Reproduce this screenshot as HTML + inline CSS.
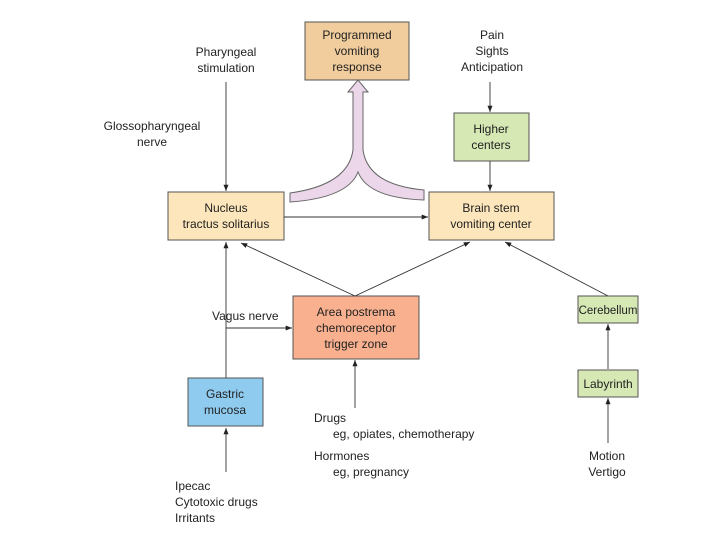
<!DOCTYPE html>
<html><head><style>
body{margin:0;background:#fff}
svg text{font-family:"Liberation Sans",sans-serif;font-size:12px;fill:#222}
</style></head><body>
<svg width="720" height="540" viewBox="0 0 720 540" xmlns="http://www.w3.org/2000/svg">
<defs><marker id="a" viewBox="0 0 10 10" refX="10" refY="5" markerWidth="7" markerHeight="7" orient="auto"><path d="M0,1 L10,5 L0,9z" fill="#222"/></marker></defs>
<g stroke="#555" stroke-width="1">
<rect x="305" y="22" width="104" height="58" fill="#f1cc9c"/>
<rect x="454" y="113" width="75" height="48" fill="#d6e8b4"/>
<rect x="168" y="192" width="116" height="48" fill="#fde6bb"/>
<rect x="429" y="192" width="125" height="48" fill="#fde6bb"/>
<rect x="293" y="296" width="126" height="63" fill="#f8b08f"/>
<rect x="188" y="378" width="75" height="48" fill="#8fcbef"/>
<rect x="578" y="296" width="60" height="27" fill="#d6e8b4"/>
<rect x="578" y="370" width="60" height="27" fill="#d6e8b4"/>
</g>
<g stroke="#333" stroke-width="0.9" fill="none" marker-end="url(#a)">
<line x1="226" y1="82" x2="226" y2="191"/>
<line x1="490" y1="82" x2="490" y2="112"/>
<line x1="490" y1="161" x2="490" y2="191"/>
<line x1="284" y1="217" x2="428" y2="217"/>
<line x1="226" y1="378" x2="226" y2="242"/>
<polyline points="226,328 292,328"/>
<line x1="355" y1="296" x2="241" y2="243"/>
<line x1="355" y1="296" x2="470" y2="242"/>
<line x1="608" y1="296" x2="505" y2="242"/>
<line x1="355" y1="408" x2="355" y2="360"/>
<line x1="226" y1="472" x2="226" y2="428"/>
<line x1="608" y1="443" x2="608" y2="398"/>
<line x1="608" y1="369" x2="608" y2="324"/>
</g>
<path d="M353,92 L348,92 L358,80 L368,92 L363,92 L363,150 Q368,185 424,190 L424,200 Q368,198 358,172 Q348,198 290,202 L290,193 Q348,185 353,150 Z" fill="#ecd6ea" stroke="#666" stroke-width="1"/>
<g text-anchor="middle">
<text x="357" y="39">Programmed</text><text x="357" y="55">vomiting</text><text x="357" y="71">response</text>
<text x="226" y="56">Pharyngeal</text><text x="226" y="72">stimulation</text>
<text x="152" y="130">Glossopharyngeal</text><text x="152" y="146">nerve</text>
<text x="492" y="39">Pain</text><text x="492" y="55">Sights</text><text x="492" y="71">Anticipation</text>
<text x="491" y="133">Higher</text><text x="491" y="149">centers</text>
<text x="226" y="212">Nucleus</text><text x="226" y="228">tractus solitarius</text>
<text x="491" y="212">Brain stem</text><text x="491" y="228">vomiting center</text>
<text x="356" y="316">Area postrema</text><text x="356" y="332">chemoreceptor</text><text x="356" y="348">trigger zone</text>
<text x="225" y="398">Gastric</text><text x="225" y="414">mucosa</text>
<text x="608" y="314" style="font-size:11.5px">Cerebellum</text><text x="608" y="388">Labyrinth</text>
<text x="607" y="460">Motion</text><text x="607" y="476">Vertigo</text>
</g>
<text x="212" y="320">Vagus nerve</text>
<text x="314" y="422">Drugs</text>
<text x="333" y="438">eg, opiates, chemotherapy</text>
<text x="314" y="460">Hormones</text>
<text x="333" y="476">eg, pregnancy</text>
<text x="175" y="490">Ipecac</text>
<text x="175" y="506">Cytotoxic drugs</text>
<text x="175" y="522">Irritants</text>
</svg>
</body></html>
